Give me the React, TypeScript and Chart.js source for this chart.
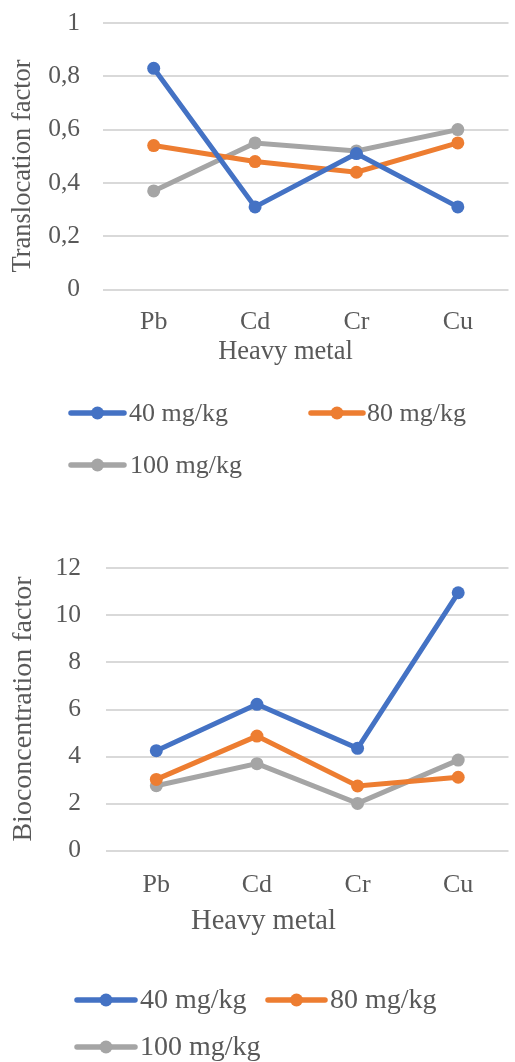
import React, { useEffect, useRef } from "react";
import { Chart, registerables } from "chart.js";

Chart.register(...registerables);

// Categories and series
const metals = ["Pb", "Cd", "Cr", "Cu"];
const seriesNames = ["40 mg/kg", "80 mg/kg", "100 mg/kg"];

// Translocation factor
const tf40 = [0.83, 0.31, 0.51, 0.31];
const tf80 = [0.54, 0.48, 0.44, 0.55];
const tf100 = [0.37, 0.55, 0.52, 0.6];

// Bioconcentration factor
const bcf40 = [4.25, 6.22, 4.35, 10.96];
const bcf80 = [3.03, 4.87, 2.75, 3.12];
const bcf100 = [2.76, 3.7, 2.01, 3.85];

// Axis ticks
const tfTicks = [0, 0.2, 0.4, 0.6, 0.8, 1];
const bcfTicks = [0, 2, 4, 6, 8, 10, 12];

const COLORS = ["#4472C4", "#ED7D31", "#A5A5A5"];
const TEXT = "#595959";
const GRID = "#D9D9D9";
const FAMILY = "'Liberation Serif', 'Times New Roman', serif";

type LegendSpot = { x0: number; x1: number; tx: number; y: number };
type TitleSpot = { text: string; x: number; y: number; size: number };

// Draws legend entries (line + marker + label) at fixed spots, in Excel style
const rowLegend = {
  id: "rowLegend",
  afterDraw(chart: any, _args: any, opts: any) {
    const spots: LegendSpot[] = opts.spots || [];
    const ctx = chart.ctx;
    ctx.save();
    chart.data.datasets.forEach((ds: any, i: number) => {
      const s = spots[i];
      if (!s) return;
      ctx.strokeStyle = ds.borderColor;
      ctx.lineWidth = 5.5;
      ctx.lineCap = "round";
      ctx.beginPath();
      ctx.moveTo(s.x0, s.y);
      ctx.lineTo(s.x1, s.y);
      ctx.stroke();
      ctx.fillStyle = ds.borderColor;
      ctx.beginPath();
      ctx.arc((s.x0 + s.x1) / 2, s.y, 6.5, 0, Math.PI * 2);
      ctx.fill();
      ctx.fillStyle = TEXT;
      ctx.font = `${opts.fontSize}px ${FAMILY}`;
      ctx.textBaseline = "middle";
      ctx.textAlign = "left";
      ctx.fillText(ds.label, s.tx, s.y + 1);
    });
    ctx.restore();
  },
};

// Axis titles placed where the chart layout wants them
const axisTitles = {
  id: "axisTitles",
  afterDraw(chart: any, _args: any, opts: any) {
    const ctx = chart.ctx;
    ctx.save();
    ctx.fillStyle = TEXT;
    ctx.textAlign = "center";
    ctx.textBaseline = "middle";
    const xt: TitleSpot | undefined = opts.x;
    if (xt) {
      ctx.font = `${xt.size}px ${FAMILY}`;
      ctx.fillText(xt.text, xt.x, xt.y);
    }
    const yt: TitleSpot | undefined = opts.y;
    if (yt) {
      ctx.translate(yt.x, yt.y);
      ctx.rotate(-Math.PI / 2);
      ctx.font = `${yt.size}px ${FAMILY}`;
      ctx.fillText(yt.text, 0, 0);
    }
    ctx.restore();
  },
};

type Cfg = {
  values: number[][];
  ticks: number[];
  xTitle: TitleSpot;
  yTitle: TitleSpot;
  yWidth: number;
  yTickPad: number;
  padTop: number;
  padRight: number;
  padBottom: number;
  xHeight: number;
  xTickPad: number;
  legendFont: number;
  spots: LegendSpot[];
};

function makeConfig(c: Cfg): any {
  return {
    type: "line",
    data: {
      labels: metals,
      datasets: c.values.map((v, i) => ({
        label: seriesNames[i],
        data: v,
        borderColor: COLORS[i],
        backgroundColor: COLORS[i],
        borderWidth: 5,
        pointRadius: 6.5,
        pointBorderWidth: 0,
        pointBackgroundColor: COLORS[i],
        tension: 0,
      })),
    },
    options: {
      responsive: false,
      animation: false,
      devicePixelRatio: 1,
      layout: {
        padding: { top: c.padTop, left: 0, right: c.padRight, bottom: c.padBottom },
      },
      plugins: {
        legend: { display: false },
        tooltip: { enabled: false },
        rowLegend: { spots: c.spots, fontSize: c.legendFont },
        axisTitles: { x: c.xTitle, y: c.yTitle },
      },
      scales: {
        x: {
          offset: true,
          grid: { display: false, drawTicks: false },
          border: { display: false },
          ticks: {
            color: TEXT,
            padding: c.xTickPad,
            font: { family: FAMILY, size: 26 },
          },
          afterFit: (s: any) => {
            s.height = c.xHeight;
          },
        },
        y: {
          min: c.ticks[0],
          max: c.ticks[c.ticks.length - 1],
          afterBuildTicks: (s: any) => {
            s.ticks = c.ticks.map((v) => ({ value: v }));
          },
          grid: { color: GRID, lineWidth: 2, drawTicks: false },
          border: { display: false },
          ticks: {
            color: TEXT,
            padding: c.yTickPad,
            font: { family: FAMILY, size: 25.5 },
            callback: (v: number) => String(v).replace(".", ","),
          },
          afterFit: (s: any) => {
            s.width = c.yWidth;
            s.paddingTop = 0;
            s.paddingBottom = 0;
          },
        },
      },
    },
    plugins: [rowLegend, axisTitles],
  };
}

function LineChart({ cfg, width, height }: { cfg: Cfg; width: number; height: number }) {
  const ref = useRef<HTMLCanvasElement | null>(null);
  useEffect(() => {
    if (!ref.current) return;
    const chart = new Chart(ref.current, makeConfig(cfg));
    return () => chart.destroy();
  }, [cfg]);
  return <canvas ref={ref} width={width} height={height} style={{ display: "block" }} />;
}

const tfCfg: Cfg = {
  values: [tf40, tf80, tf100],
  ticks: tfTicks,
  xTitle: { text: "Heavy metal", x: 285.5, y: 352, size: 26.5 },
  yTitle: { text: "Translocation factor", x: 23, y: 166, size: 26.5 },
  yWidth: 103,
  yTickPad: 23,
  padTop: 23,
  padRight: 0,
  padBottom: 132,
  xHeight: 78.5,
  xTickPad: 17,
  legendFont: 26,
  spots: [
    { x0: 71, x1: 124, tx: 129, y: 413 },
    { x0: 311, x1: 363, tx: 367, y: 413 },
    { x0: 71, x1: 124, tx: 130, y: 465 },
  ],
};

const bcfCfg: Cfg = {
  values: [bcf40, bcf80, bcf100],
  ticks: bcfTicks,
  xTitle: { text: "Heavy metal", x: 263.5, y: 392, size: 28.5 },
  yTitle: { text: "Bioconcentration factor", x: 24, y: 179, size: 28 },
  yWidth: 106,
  yTickPad: 25,
  padTop: 38.3,
  padRight: 2,
  padBottom: 123,
  xHeight: 88.3,
  xTickPad: 18.7,
  legendFont: 28,
  spots: [
    { x0: 77, x1: 135, tx: 140, y: 470 },
    { x0: 268, x1: 325, tx: 330, y: 470 },
    { x0: 77, x1: 135, tx: 140, y: 517 },
  ],
};

export default function App() {
  return (
    <div style={{ position: "absolute", left: 0, top: 0, width: 515, height: 1062, background: "#fff" }}>
      <div style={{ position: "absolute", left: 0, top: 0 }}>
        <LineChart cfg={tfCfg} width={515} height={500} />
      </div>
      <div style={{ position: "absolute", left: 0, top: 530 }}>
        <LineChart cfg={bcfCfg} width={515} height={532} />
      </div>
    </div>
  );
}
